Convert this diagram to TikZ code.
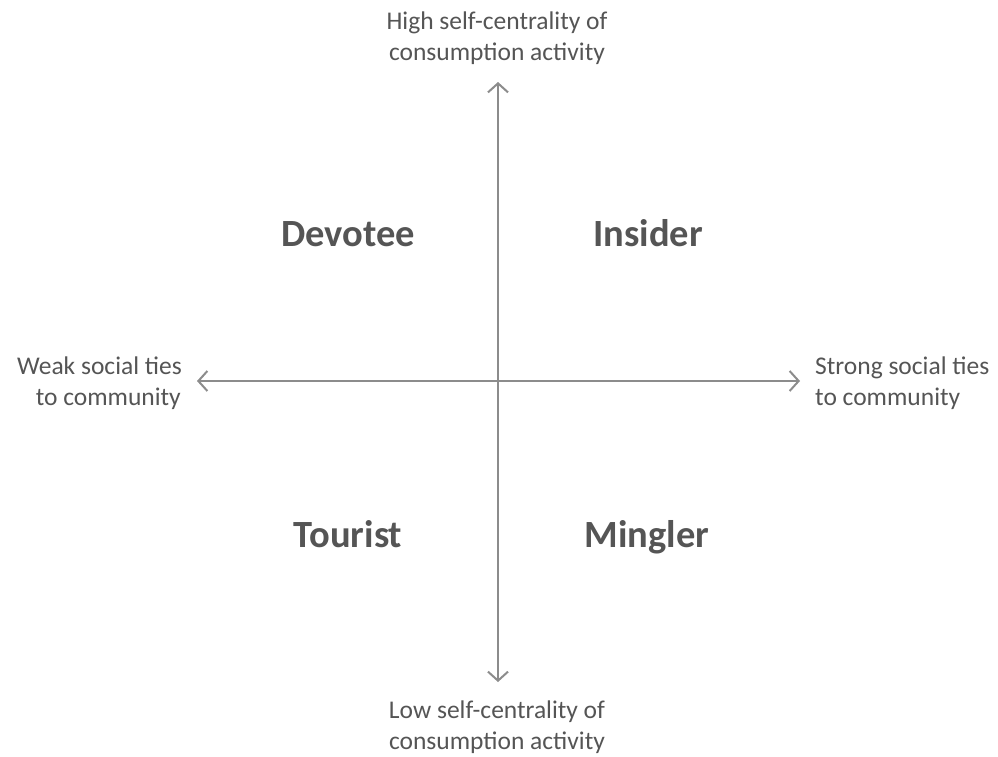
\documentclass[tikz,border=0pt]{standalone}
\usepackage{fontspec}
\setmainfont{Carlito}
\usetikzlibrary{arrows.meta}
\definecolor{axisgray}{HTML}{8C8C8C}
\definecolor{textgray}{HTML}{555555}
\begin{document}
\begin{tikzpicture}[x=1pt,y=-1pt,
  axis/.style={draw=axisgray, line width=2.6pt,
    {Straight Barb[length=9pt,width=20pt,line width=2pt]}-{Straight Barb[length=9pt,width=20pt,line width=2pt]}},
  axislabel/.style={text=textgray, font=\fontsize{25.5}{31}\selectfont, inner sep=0pt},
  quadrant/.style={text=textgray, font=\fontsize{38.5}{46}\selectfont\bfseries, inner sep=0pt, anchor=base}]
  \fill[white] (0,0) rectangle (998,756);
  \useasboundingbox (0,0) rectangle (998,756);

  % axis end points
  \coordinate (top) at (498,82);
  \coordinate (bottom) at (498,682);
  \coordinate (left) at (197,381);
  \coordinate (right) at (800,381);

  \draw[axis] (bottom) -- (top);
  \draw[axis] (left) -- (right);

  % vertical axis labels
  \node[axislabel, anchor=base] (high1) at (497,29) {High self-centrality of};
  \node[axislabel, anchor=base] (high2) at (497,60) {consumption activity};
  \node[axislabel, anchor=base] (low1) at (497,718) {Low self-centrality of};
  \node[axislabel, anchor=base] (low2) at (497,749) {consumption activity};

  % horizontal axis labels
  \node[axislabel, anchor=base east] (weak1) at (182,374) {Weak social ties};
  \node[axislabel, anchor=base east] (weak2) at (181,405) {to community};
  \node[axislabel, anchor=base west] (strong1) at (815,374) {Strong social ties};
  \node[axislabel, anchor=base west] (strong2) at (815,405) {to community};

  % quadrant names
  \node[quadrant] (devotee) at (348,246) {Devotee};
  \node[quadrant] (insider) at (648,246) {Insider};
  \node[quadrant] (tourist) at (348,547) {Tourist};
  \node[quadrant] (mingler) at (647,547) {Mingler};
\end{tikzpicture}
\end{document}
